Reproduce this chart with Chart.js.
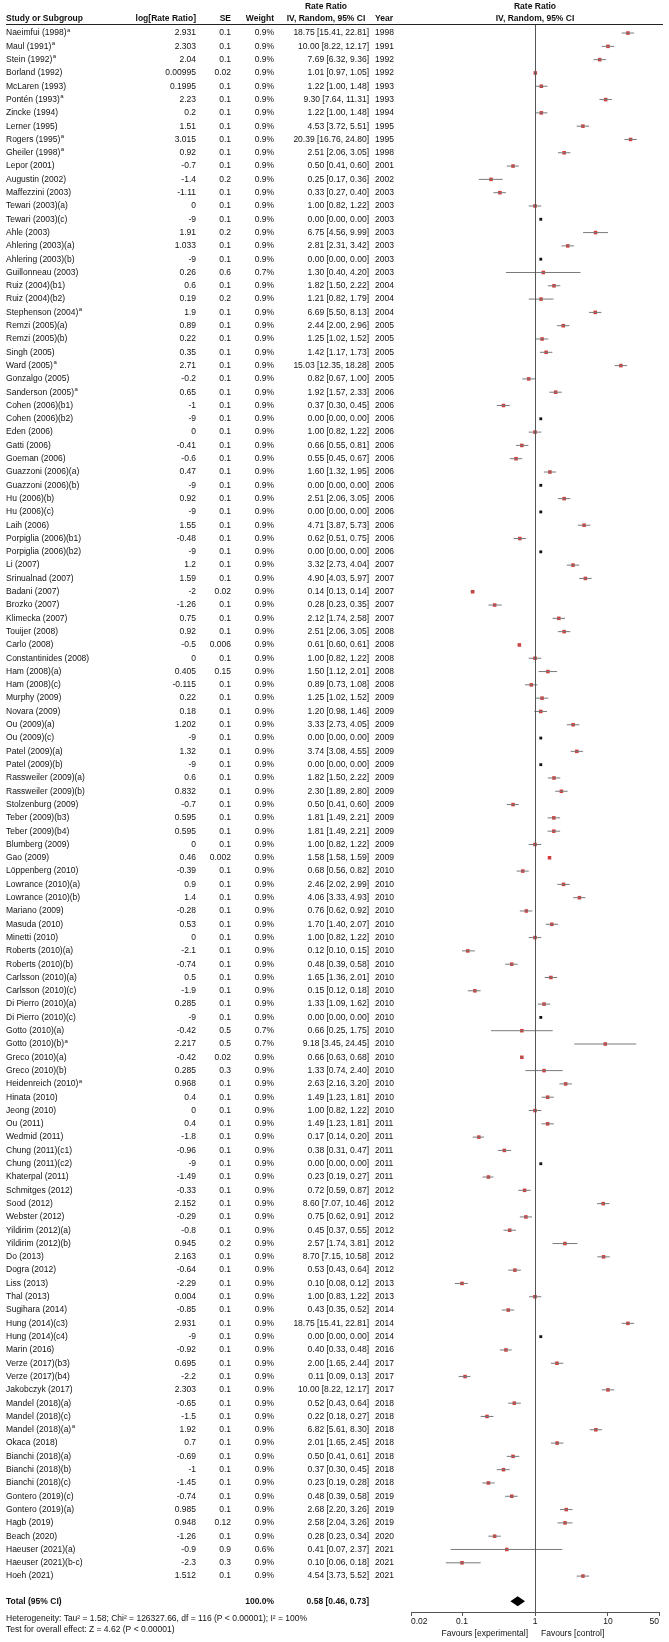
<!DOCTYPE html>
<html><head><meta charset="utf-8">
<script src="https://cdn.jsdelivr.net/npm/chart.js@4/dist/chart.umd.min.js"></script>
<style>html,body{margin:0;padding:0;background:#fff;}#wrap{position:relative;width:669px;height:1642px;}</style>
</head><body><div id="wrap"><canvas id="c" width="669" height="1642"></canvas></div>
<script>
const studies = ["Naeimfui (1998)^a","Maul (1991)^a","Stein (1992)^a","Borland (1992)","McLaren (1993)","Pontén (1993)^a","Zincke (1994)","Lerner (1995)","Rogers (1995)^a","Gheiler (1998)^a",
"Lepor (2001)","Augustin (2002)","Maffezzini (2003)","Tewari (2003)(a)","Tewari (2003)(c)","Ahle (2003)","Ahlering (2003)(a)","Ahlering (2003)(b)","Guillonneau (2003)","Ruiz (2004)(b1)",
"Ruiz (2004)(b2)","Stephenson (2004)^a","Remzi (2005)(a)","Remzi (2005)(b)","Singh (2005)","Ward (2005)^a","Gonzalgo (2005)","Sanderson (2005)^a","Cohen (2006)(b1)","Cohen (2006)(b2)",
"Eden (2006)","Gatti (2006)","Goeman (2006)","Guazzoni (2006)(a)","Guazzoni (2006)(b)","Hu (2006)(b)","Hu (2006)(c)","Laih (2006)","Porpiglia (2006)(b1)","Porpiglia (2006)(b2)",
"Li (2007)","Srinualnad (2007)","Badani (2007)","Brozko (2007)","Klimecka (2007)","Touijer (2008)","Carlo (2008)","Constantinides (2008)","Ham (2008)(a)","Ham (2008)(c)",
"Murphy (2009)","Novara (2009)","Ou (2009)(a)","Ou (2009)(c)","Patel (2009)(a)","Patel (2009)(b)","Rassweiler (2009)(a)","Rassweiler (2009)(b)","Stolzenburg (2009)","Teber (2009)(b3)",
"Teber (2009)(b4)","Blumberg (2009)","Gao (2009)","Löppenberg (2010)","Lowrance (2010)(a)","Lowrance (2010)(b)","Mariano (2009)","Masuda (2010)","Minetti (2010)","Roberts (2010)(a)",
"Roberts (2010)(b)","Carlsson (2010)(a)","Carlsson (2010)(c)","Di Pierro (2010)(a)","Di Pierro (2010)(c)","Gotto (2010)(a)","Gotto (2010)(b)^a","Greco (2010)(a)","Greco (2010)(b)","Heidenreich (2010)^a",
"Hinata (2010)","Jeong (2010)","Ou (2011)","Wedmid (2011)","Chung (2011)(c1)","Chung (2011)(c2)","Khaterpal (2011)","Schmitges (2012)","Sood (2012)","Webster (2012)",
"Yildirim (2012)(a)","Yildirim (2012)(b)","Do (2013)","Dogra (2012)","Liss (2013)","Thal (2013)","Sugihara (2014)","Hung (2014)(c3)","Hung (2014)(c4)","Marin (2016)",
"Verze (2017)(b3)","Verze (2017)(b4)","Jakobczyk (2017)","Mandel (2018)(a)","Mandel (2018)(c)","Mandel (2018)(a)^a","Okaca (2018)","Bianchi (2018)(a)","Bianchi (2018)(b)","Bianchi (2018)(c)",
"Gontero (2019)(c)","Gontero (2019)(a)","Hagb (2019)","Beach (2020)","Haeuser (2021)(a)","Haeuser (2021)(b-c)","Hoeh (2021)"];
const logRR = ["2.931","2.303","2.04","0.00995","0.1995","2.23","0.2","1.51","3.015","0.92",
"-0.7","-1.4","-1.11","0","-9","1.91","1.033","-9","0.26","0.6",
"0.19","1.9","0.89","0.22","0.35","2.71","-0.2","0.65","-1","-9",
"0","-0.41","-0.6","0.47","-9","0.92","-9","1.55","-0.48","-9",
"1.2","1.59","-2","-1.26","0.75","0.92","-0.5","0","0.405","-0.115",
"0.22","0.18","1.202","-9","1.32","-9","0.6","0.832","-0.7","0.595",
"0.595","0","0.46","-0.39","0.9","1.4","-0.28","0.53","0","-2.1",
"-0.74","0.5","-1.9","0.285","-9","-0.42","2.217","-0.42","0.285","0.968",
"0.4","0","0.4","-1.8","-0.96","-9","-1.49","-0.33","2.152","-0.29",
"-0.8","0.945","2.163","-0.64","-2.29","0.004","-0.85","2.931","-9","-0.92",
"0.695","-2.2","2.303","-0.65","-1.5","1.92","0.7","-0.69","-1","-1.45",
"-0.74","0.985","0.948","-1.26","-0.9","-2.3","1.512"];
const seVals = ["0.1","0.1","0.1","0.02","0.1","0.1","0.1","0.1","0.1","0.1",
"0.1","0.2","0.1","0.1","0.1","0.2","0.1","0.1","0.6","0.1",
"0.2","0.1","0.1","0.1","0.1","0.1","0.1","0.1","0.1","0.1",
"0.1","0.1","0.1","0.1","0.1","0.1","0.1","0.1","0.1","0.1",
"0.1","0.1","0.02","0.1","0.1","0.1","0.006","0.1","0.15","0.1",
"0.1","0.1","0.1","0.1","0.1","0.1","0.1","0.1","0.1","0.1",
"0.1","0.1","0.002","0.1","0.1","0.1","0.1","0.1","0.1","0.1",
"0.1","0.1","0.1","0.1","0.1","0.5","0.5","0.02","0.3","0.1",
"0.1","0.1","0.1","0.1","0.1","0.1","0.1","0.1","0.1","0.1",
"0.1","0.2","0.1","0.1","0.1","0.1","0.1","0.1","0.1","0.1",
"0.1","0.1","0.1","0.1","0.1","0.1","0.1","0.1","0.1","0.1",
"0.1","0.1","0.12","0.1","0.9","0.3","0.1"];
const weights = ["0.9%","0.9%","0.9%","0.9%","0.9%","0.9%","0.9%","0.9%","0.9%","0.9%",
"0.9%","0.9%","0.9%","0.9%","0.9%","0.9%","0.9%","0.9%","0.7%","0.9%",
"0.9%","0.9%","0.9%","0.9%","0.9%","0.9%","0.9%","0.9%","0.9%","0.9%",
"0.9%","0.9%","0.9%","0.9%","0.9%","0.9%","0.9%","0.9%","0.9%","0.9%",
"0.9%","0.9%","0.9%","0.9%","0.9%","0.9%","0.9%","0.9%","0.9%","0.9%",
"0.9%","0.9%","0.9%","0.9%","0.9%","0.9%","0.9%","0.9%","0.9%","0.9%",
"0.9%","0.9%","0.9%","0.9%","0.9%","0.9%","0.9%","0.9%","0.9%","0.9%",
"0.9%","0.9%","0.9%","0.9%","0.9%","0.7%","0.7%","0.9%","0.9%","0.9%",
"0.9%","0.9%","0.9%","0.9%","0.9%","0.9%","0.9%","0.9%","0.9%","0.9%",
"0.9%","0.9%","0.9%","0.9%","0.9%","0.9%","0.9%","0.9%","0.9%","0.9%",
"0.9%","0.9%","0.9%","0.9%","0.9%","0.9%","0.9%","0.9%","0.9%","0.9%",
"0.9%","0.9%","0.9%","0.9%","0.6%","0.9%","0.9%"];
const rateRatio = [18.75,10.00,7.69,1.01,1.22,9.30,1.22,4.53,20.39,2.51,
0.50,0.25,0.33,1.00,0.00,6.75,2.81,0.00,1.30,1.82,
1.21,6.69,2.44,1.25,1.42,15.03,0.82,1.92,0.37,0.00,
1.00,0.66,0.55,1.60,0.00,2.51,0.00,4.71,0.62,0.00,
3.32,4.90,0.14,0.28,2.12,2.51,0.61,1.00,1.50,0.89,
1.25,1.20,3.33,0.00,3.74,0.00,1.82,2.30,0.50,1.81,
1.81,1.00,1.58,0.68,2.46,4.06,0.76,1.70,1.00,0.12,
0.48,1.65,0.15,1.33,0.00,0.66,9.18,0.66,1.33,2.63,
1.49,1.00,1.49,0.17,0.38,0.00,0.23,0.72,8.60,0.75,
0.45,2.57,8.70,0.53,0.10,1.00,0.43,18.75,0.00,0.40,
2.00,0.11,10.00,0.52,0.22,6.82,2.01,0.50,0.37,0.23,
0.48,2.68,2.58,0.28,0.41,0.10,4.54];
const ciLow = [15.41,8.22,6.32,0.97,1.00,7.64,1.00,3.72,16.76,2.06,
0.41,0.17,0.27,0.82,0.00,4.56,2.31,0.00,0.40,1.50,
0.82,5.50,2.00,1.02,1.17,12.35,0.67,1.57,0.30,0.00,
0.82,0.55,0.45,1.32,0.00,2.06,0.00,3.87,0.51,0.00,
2.73,4.03,0.13,0.23,1.74,2.06,0.60,0.82,1.12,0.73,
1.02,0.98,2.73,0.00,3.08,0.00,1.50,1.89,0.41,1.49,
1.49,0.82,1.58,0.56,2.02,3.33,0.62,1.40,0.82,0.10,
0.39,1.36,0.12,1.09,0.00,0.25,3.45,0.63,0.74,2.16,
1.23,0.82,1.23,0.14,0.31,0.00,0.19,0.59,7.07,0.62,
0.37,1.74,7.15,0.43,0.08,0.83,0.35,15.41,0.00,0.33,
1.65,0.09,8.22,0.43,0.18,5.61,1.65,0.41,0.30,0.19,
0.39,2.20,2.04,0.23,0.07,0.06,3.73];
const ciHigh = [22.81,12.17,9.36,1.05,1.48,11.31,1.48,5.51,24.80,3.05,
0.60,0.36,0.40,1.22,0.00,9.99,3.42,0.00,4.20,2.22,
1.79,8.13,2.96,1.52,1.73,18.28,1.00,2.33,0.45,0.00,
1.22,0.81,0.67,1.95,0.00,3.05,0.00,5.73,0.75,0.00,
4.04,5.97,0.14,0.35,2.58,3.05,0.61,1.22,2.01,1.08,
1.52,1.46,4.05,0.00,4.55,0.00,2.22,2.80,0.60,2.21,
2.21,1.22,1.59,0.82,2.99,4.93,0.92,2.07,1.22,0.15,
0.58,2.01,0.18,1.62,0.00,1.75,24.45,0.68,2.40,3.20,
1.81,1.22,1.81,0.20,0.47,0.00,0.27,0.87,10.46,0.91,
0.55,3.81,10.58,0.64,0.12,1.22,0.52,22.81,0.00,0.48,
2.44,0.13,12.17,0.64,0.27,8.30,2.45,0.61,0.45,0.28,
0.58,3.26,3.26,0.34,2.37,0.18,5.52];
const years = ["1998","1991","1992","1992","1993","1993","1994","1995","1995","1998",
"2001","2002","2003","2003","2003","2003","2003","2003","2003","2004",
"2004","2004","2005","2005","2005","2005","2005","2006","2006","2006",
"2006","2006","2006","2006","2006","2006","2006","2006","2006","2006",
"2007","2007","2007","2007","2007","2008","2008","2008","2008","2008",
"2009","2009","2009","2009","2009","2009","2009","2009","2009","2009",
"2009","2009","2009","2010","2010","2010","2010","2010","2010","2010",
"2010","2010","2010","2010","2010","2010","2010","2010","2010","2010",
"2010","2010","2011","2011","2011","2011","2011","2012","2012","2012",
"2012","2012","2012","2012","2013","2013","2014","2014","2014","2016",
"2017","2017","2017","2018","2018","2018","2018","2018","2018","2018",
"2019","2019","2019","2020","2021","2021","2021"];
const xTicks = [0.02, 0.1, 1, 10, 50];
const xTickLabels = ["0.02", "0.1", "1", "10", "50"];
const totalEstimate = [0.58, 0.46, 0.73];
const totalLabels = ["Total (95% CI)", "100.0%", "0.58 [0.46, 0.73]"];
const footerLines = ["Heterogeneity: Tau\u00B2 = 1.58; Chi\u00B2 = 126327.66, df = 116 (P < 0.00001); I\u00B2 = 100%", "Test for overall effect: Z = 4.62 (P < 0.00001)"];
const favourLabels = ["Favours [experimental]", "Favours [control]"];
// rows whose estimate (0.00) falls off the scale are flagged with a small black marker
const offScaleMarkerValue = 1.2;

const totalRow = 117.9;
const FONT = '"Liberation Sans", Arial, sans-serif';
const fmt2 = v => v.toFixed(2);

const ciData = [], pointData = [], offData = [];
studies.forEach((s, i) => {
  if (rateRatio[i] > 0) {
    ciData.push({x: ciLow[i], y: i}, {x: ciHigh[i], y: i}, {x: NaN, y: NaN});
    pointData.push({x: rateRatio[i], y: i});
  } else {
    offData.push({x: offScaleMarkerValue, y: i});
  }
});

const tablePlugin = {
  id: 'table',
  afterDraw(chart) {
    const ctx = chart.ctx, xs = chart.scales.x, ys = chart.scales.y, ca = chart.chartArea;
    ctx.save();
    const txt = (t, x, y, align, bold) => {
      ctx.font = (bold ? 'bold ' : '') + '8.5px ' + FONT;
      ctx.textAlign = align; ctx.textBaseline = 'middle'; ctx.fillStyle = '#111';
      ctx.fillText(t, x, y);
    };
    const x1 = xs.getPixelForValue(1);
    ctx.strokeStyle = '#555'; ctx.lineWidth = 1;
    ctx.beginPath(); ctx.moveTo(Math.round(x1) + 0.5, ca.top - 2); ctx.lineTo(Math.round(x1) + 0.5, ca.bottom); ctx.stroke();
    const h1 = 7, h2 = 19;
    txt('Study or Subgroup', 6, h2, 'left', true);
    txt('log[Rate Ratio]', 196, h2, 'right', true);
    txt('SE', 231, h2, 'right', true);
    txt('Weight', 274, h2, 'right', true);
    txt('Rate Ratio', 326, h1, 'center', true);
    txt('IV, Random, 95% CI', 326, h2, 'center', true);
    txt('Year', 375, h2, 'left', true);
    txt('Rate Ratio', x1, h1, 'center', true);
    txt('IV, Random, 95% CI', x1, h2, 'center', true);
    ctx.strokeStyle = '#222'; ctx.lineWidth = 1;
    ctx.beginPath(); ctx.moveTo(6, 24.5); ctx.lineTo(663, 24.5); ctx.stroke();
    studies.forEach((s, i) => {
      const y = ys.getPixelForValue(i);
      let name = s, sup = false;
      if (name.endsWith('^a')) { name = name.slice(0, -2); sup = true; }
      txt(name, 6, y, 'left', false);
      if (sup) {
        const w = ctx.measureText(name).width;
        ctx.font = '6px ' + FONT; ctx.textAlign = 'left';
        ctx.fillText('a', 6 + w + 0.5, y - 3);
      }
      txt(logRR[i], 196, y, 'right');
      txt(seVals[i], 231, y, 'right');
      txt(weights[i], 274, y, 'right');
      txt(fmt2(rateRatio[i]) + ' [' + fmt2(ciLow[i]) + ', ' + fmt2(ciHigh[i]) + ']', 369, y, 'right');
      txt(years[i], 375, y, 'left');
    });
    const yt = ys.getPixelForValue(totalRow);
    txt(totalLabels[0], 6, yt, 'left', true);
    txt(totalLabels[1], 274, yt, 'right', true);
    txt(totalLabels[2], 369, yt, 'right', true);
    txt(footerLines[0], 6, yt + 17, 'left', false);
    txt(footerLines[1], 6, yt + 28, 'left', false);
    const xc = xs.getPixelForValue(totalEstimate[0]);
    const xl = xs.getPixelForValue(totalEstimate[1]);
    const xr = xs.getPixelForValue(totalEstimate[2]);
    ctx.fillStyle = '#000';
    ctx.beginPath(); ctx.moveTo(xl, yt); ctx.lineTo(xc, yt - 5); ctx.lineTo(xr, yt); ctx.lineTo(xc, yt + 5); ctx.closePath(); ctx.fill();
    // tick labels (end labels kept inside the axis, as in the original)
    xTicks.forEach((v, k) => {
      const align = k === 0 ? 'left' : (k === xTicks.length - 1 ? 'right' : 'center');
      txt(xTickLabels[k], xs.getPixelForValue(v), ca.bottom + 10, align, false);
    });
    txt(favourLabels[0], x1 - 7, 1634, 'right', false);
    txt(favourLabels[1], x1 + 6, 1634, 'left', false);
    ctx.restore();
  }
};

new Chart(document.getElementById('c'), {
  type: 'scatter',
  data: {
    datasets: [
      {type: 'line', data: ciData, showLine: true, spanGaps: false, borderColor: '#7a7a7a', borderWidth: 1, pointRadius: 0, fill: false},
      {data: pointData, pointStyle: 'rect', pointRadius: 2.5, backgroundColor: '#d23c3c', borderWidth: 0},
      {data: offData, pointStyle: 'rect', pointRadius: 2, backgroundColor: '#111', borderWidth: 0}
    ]
  },
  options: {
    responsive: false, animation: false, devicePixelRatio: 1,
    layout: {padding: {left: 411, right: 10, top: 26, bottom: 18}},
    plugins: {legend: {display: false}, tooltip: {enabled: false}},
    scales: {
      x: {
        type: 'logarithmic', min: 0.02, max: 50, position: 'bottom',
        afterBuildTicks: s => { s.ticks = xTicks.map(v => ({value: v})); },
        afterFit: s => { s.height = 12; },
        grid: {display: true, drawOnChartArea: false, drawTicks: true, tickLength: 4, color: '#555'},
        border: {color: '#555'},
        ticks: {display: false, autoSkip: false}
      },
      y: {type: 'linear', reverse: true, min: -0.53, max: 118.7, display: false}
    }
  },
  plugins: [tablePlugin]
});
</script></body></html>
